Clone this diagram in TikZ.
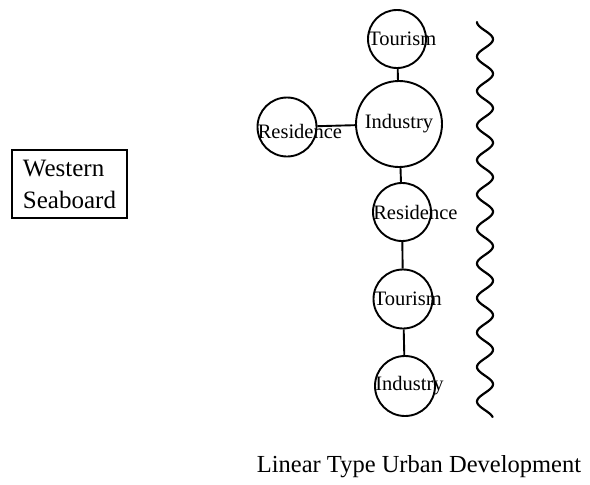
\documentclass[tikz,border=0pt]{standalone}
\usepackage{fontspec}
\setmainfont{Liberation Serif}
\usetikzlibrary{positioning}
\tikzset{
    spot/.style={draw, circle, line width=1.9pt, minimum size=#1, inner sep=0pt},
    spot/.default={58pt},
    spotname/.style={inner sep=0pt, font=\fontsize{20.5}{24}\selectfont},
    link/.style={line width=1.9pt},
    coast/.style={line width=2.2pt, line cap=round}
}

\begin{document}
\begin{tikzpicture}[x=1pt, y=-1pt]
    \useasboundingbox (0,0) rectangle (590,485);
    % places along the corridor
    \node[spot] (t1) at (397,39) {};
    \node[spot=86pt] (i1) at (399,124) {};
    \node[spot=59pt] (r1) at (287,127) {};
    \node[spot] (r2) at (402,212) {};
    \node[spot=59pt] (t2) at (403,299) {};
    \node[spot=60pt] (i2) at (405,386) {};
    \node[spotname, right=1pt of t1.west] (t1txt) {Tourism};
    \node[spotname] (i1txt) at (i1) {Industry};
    \node[spotname, right=1pt of r1.west, yshift=-4pt] (r1txt) {Residence};
    \node[spotname, right=1pt of r2.west] (r2txt) {Residence};
    \node[spotname, right=1pt of t2.west] (t2txt) {Tourism};
    \node[spotname, right=1pt of i2.west] (i2txt) {Industry};
    \draw[link] (t1) -- (i1);
    \draw[link] (r1) -- (i1);
    \draw[link] (i1) -- (r2);
    \draw[link] (r2) -- (t2);
    \draw[link] (t2) -- (i2);
    % coastline
    \draw[coast] plot[domain=0:395, samples=300, smooth] ({485-8*cos(\x/34.5*360)}, {22+\x});
    \node[draw, line width=1.6pt, minimum width=115pt, minimum height=68pt, align=left,
          font=\fontsize{25}{32}\selectfont] (ws) at (69.5,184) {Western\\Seaboard};
    \node[anchor=base, inner sep=0pt, font=\fontsize{24.5}{28}\selectfont] (cap) at (419,472) {Linear Type Urban Development};
\end{tikzpicture}
\end{document}
